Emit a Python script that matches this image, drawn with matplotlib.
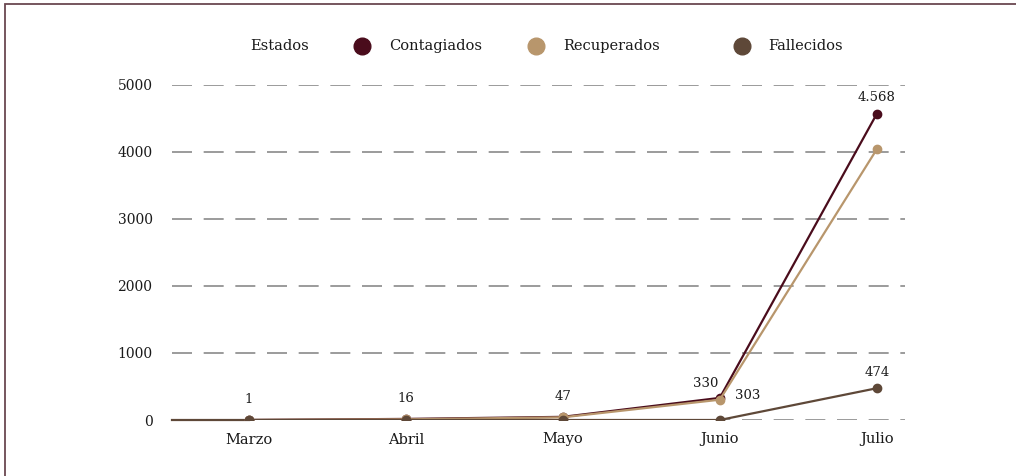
import matplotlib
matplotlib.use("Agg")
import matplotlib.pyplot as plt
from matplotlib.lines import Line2D
from matplotlib.patches import Rectangle

# Monthly COVID-19 figures
months = ["Marzo", "Abril", "Mayo", "Junio", "Julio"]
contagiados = [1, 16, 47, 330, 4568]
recuperados = [0, 10, 40, 303, 4040]
fallecidos = [0, 0, 0, 0, 474]
y_ticks = [0, 1000, 2000, 3000, 4000, 5000]

series_names = ["Contagiados", "Recuperados", "Fallecidos"]
colors = {"Contagiados": "#4a0c1c", "Recuperados": "#b8966c", "Fallecidos": "#5e4838"}
text_color = "#1a1a1a"

plt.rcParams["font.family"] = ["DejaVu Serif"]

W, H = 1016, 476
fig = plt.figure(figsize=(W / 100, H / 100), dpi=100)
ax = fig.add_axes([172 / W, 1 - 420 / H, (905 - 172) / W, (420 - 85) / H])

x = list(range(len(months)))
data = {"Contagiados": contagiados, "Recuperados": recuperados, "Fallecidos": fallecidos}
for i, name in enumerate(series_names):
    ax.plot(x, data[name], color=colors[name], lw=1.6, marker="o", ms=6,
            zorder=3 + i, solid_capstyle="round")

ax.set_xlim(-0.49, 4.18)
ax.set_ylim(0, 5000)
ax.set_yticks(y_ticks)
ax.set_yticklabels([str(v) for v in y_ticks], fontsize=10, color=text_color)
ax.set_xticks(x)
ax.set_xticklabels(months, fontsize=10.5, color=text_color)
ax.tick_params(axis="both", length=0)
ax.tick_params(axis="y", pad=14)
ax.tick_params(axis="x", pad=9)

for y in y_ticks:
    ax.axhline(y, color="#8a8a8a", lw=1.2, dashes=(12, 7), zorder=1)

for s in ["top", "right", "left"]:
    ax.spines[s].set_visible(False)
ax.spines["bottom"].set_color(colors["Fallecidos"])
ax.spines["bottom"].set_linewidth(1.6)
ax.spines["bottom"].set_bounds(-0.49, 0)
ax.spines["bottom"].set_zorder(2)

# Value labels
lab_kw = dict(fontsize=9.5, color=text_color, ha="center", va="bottom")
for i in range(3):
    ax.annotate(str(contagiados[i]), (x[i], contagiados[i]), xytext=(0, 10),
                textcoords="offset points", **lab_kw)
ax.annotate(str(contagiados[3]), (x[3], contagiados[3]), xytext=(-10, 6),
            textcoords="offset points", **lab_kw)
ax.annotate(str(recuperados[3]), (x[3], recuperados[3]), xytext=(20, -2),
            textcoords="offset points", **lab_kw)
ax.annotate(f"{contagiados[4]:,}".replace(",", "."), (x[4], contagiados[4]),
            xytext=(0, 7), textcoords="offset points", **lab_kw)
ax.annotate(str(fallecidos[4]), (x[4], fallecidos[4]), xytext=(0, 7),
            textcoords="offset points", **lab_kw)

# Legend row
ly = 1 - 46 / H
fig.text(250 / W, ly, "Estados", fontsize=10.5, color=text_color, va="center", ha="left")
legend_pos = [(362, 389), (536, 563), (742, 768)]
for name, (mx, tx) in zip(series_names, legend_pos):
    fig.add_artist(Line2D([mx / W], [ly], marker="o", ms=12, color=colors[name],
                          lw=0, transform=fig.transFigure))
    fig.text(tx / W, ly, name, fontsize=10.5, color=text_color, va="center", ha="left")

# Frame along top and left edges
fig.add_artist(Rectangle((5 / W, -0.1), 1.2, 1.1 - 3.5 / H, fill=False,
                         edgecolor="#6a4850", lw=1.3, transform=fig.transFigure))

fig.savefig("out.png", dpi=100)
